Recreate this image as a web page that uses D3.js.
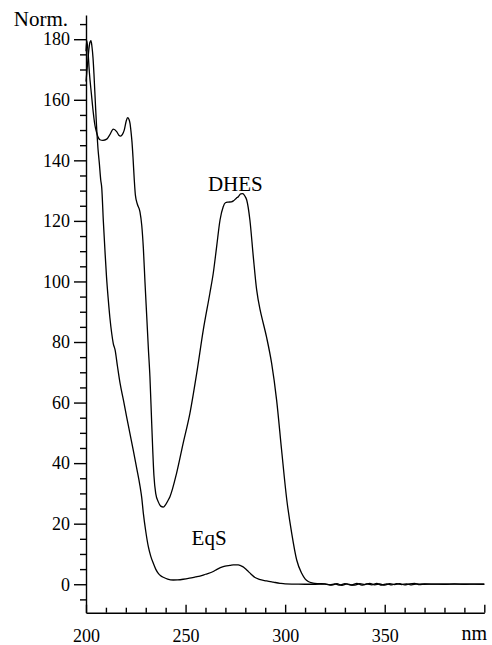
<!DOCTYPE html>
<html>
<head>
<meta charset="utf-8">
<script src="https://cdn.jsdelivr.net/npm/d3@7"></script>
<style>
  html, body { margin: 0; padding: 0; background: #fff; }
  svg { display: block; }
  text { font-family: "Liberation Serif", "Times New Roman", serif; fill: #000; }
</style>
</head>
<body>
<svg id="chart" width="492" height="645"></svg>
<script>
// ---------- data ----------
const dhesWavelength = [200,200.4,201,201.7,202.7,203.7,204.5,205.4,206.2,207,208.5,210.4,212,213.7,215.4,216.5,217.4,218.3,219.2,220.2,220.9,221.6,222.1,222.6,223.1,223.6,224.2,224.8,225.8,227.1,228,228.8,229.6,230.5,231.3,232.1,233,234.1,235,236.3,237.5,238.8,240,241.3,242.2,245.5,248.8,252.2,255.6,258.9,262.2,263.9,265.6,267.3,268.9,270,271.4,273,274,275.5,276.5,277.7,278.7,279.7,280.7,282.3,284,285.7,287.3,288.2,290.7,293.2,295.7,298.2,300.8,303.3,305.8,308.3,310,311.6,314,316.7,320,322.5,325,327.5,330,332.5,335,337.5,340,342.5,345,347.5,350,352.5,355,357.5,360,362.5,365,367.5,370,375,380,385,390,395,400];
const dhesValue = [176,179.5,176,169,162,155.5,151.5,149,147.5,146.8,146.6,147,148.5,150.3,149.5,148.3,148,148.6,150,153,154.1,153.5,152.2,149.5,146,141,134,128.5,125.5,123,118.5,111,100,88.4,78,68.5,53,36,30,27.2,25.8,25.5,26.3,27.8,29,36.7,46.6,56.5,69.7,84,96.1,102.7,111.5,120.3,124.7,126,126.2,126.3,126.6,127.5,128,128.9,129,128.3,126.9,120.3,108.2,97.2,91,88.4,81.5,73,60.9,44.4,28,16.8,8,3.6,1.8,0.9,0.4,0.2,0.1,-0.2,0.1,-0.3,0.2,-0.2,-0.3,0.2,-0.1,0.3,-0.2,0.1,-0.3,0.2,-0.1,0.2,-0.2,0.1,0.25,-0.1,0.1,0.05,0,0.1,0,0.05,0];

const eqsWavelength = [200,200.8,201.5,202,202.5,203,203.5,204,204.7,205.4,206,206.7,207.4,207.9,208.7,209.5,210.3,211.2,212,212.9,213.7,214.6,215.8,217.1,218.8,220.4,222,223.7,225.4,227.1,228,228.8,230,231.3,232.5,233.8,235,236.3,237.5,238.8,241,243.8,246,248.8,252,255,257.2,260,263.9,266,268.9,270.6,272.3,274,276.5,277.7,278.7,280.7,282.8,284.9,287,290.7,294,297.4,300,305,310,315,320,323.5,326,328.5,331,333.5,336,338.5,341,343.5,346,348.5,351,353.5,356,358.5,361,363.5,366,370,375,380,385,390,395,400];
const eqsValue = [166,172,177,179,179.5,177.5,174,168.5,159,150,144,139,133.5,131,120,110.4,101.5,93.9,88,82.9,79.5,77.4,72,66.4,60.8,55.3,50,44.4,38.5,32.5,28.5,23.4,17.5,12.4,9.3,6.9,5,3.6,2.8,2.3,1.7,1.4,1.45,1.65,2,2.4,2.7,3.3,4.2,5,5.8,6.1,6.2,6.4,6.4,6.1,5.8,4.7,3.4,2.2,1.6,1.1,0.7,0.3,0.1,0.05,0,0,0.05,-0.3,0.2,-0.35,0.1,-0.25,0.3,-0.3,0.1,-0.2,0.25,-0.3,0.15,-0.2,0.2,-0.1,0.15,-0.2,0.1,0,0.05,0,0.05,0,0.05,0];

const yMajorTicks = [0,20,40,60,80,100,120,140,160,180];
const yMinorTicks = [-5,5,10,15,25,30,35,45,50,55,65,70,75,85,90,95,105,110,115,125,130,135,145,150,155,165,170,175,185];
const xMajorTicks = [200,250,300,350,400];
const xMinorTicks = [210,220,230,240,260,270,280,290,310,320,330,340,360,370,380,390];
const xTickLabels = ["200","250","300","350",""];
const xUnitLabel = "nm";
const yUnitLabel = "Norm.";
const seriesNames = ["DHES","EqS"];

// ---------- drawing ----------
const svg = d3.select("#chart");
const x = d3.scaleLinear().domain([200, 400]).range([86, 484.3]);
const y = d3.scaleLinear().domain([-9.4, 188]).range([612.7, 15]);

const SERIF = "'Liberation Serif', 'Times New Roman', serif";
const FONT_NUM = 18, FONT_TXT = 21;

// Y axis: minor ticks
svg.append("g")
  .attr("transform", `translate(${x(200)},0)`)
  .call(d3.axisLeft(y).tickValues(yMinorTicks).tickSize(6).tickSizeOuter(0).tickFormat(""))
  .call(g => g.select(".domain").remove());
// Y axis: major ticks + labels + domain
const gy = svg.append("g")
  .attr("transform", `translate(${x(200)},0)`)
  .call(d3.axisLeft(y).tickValues(yMajorTicks).tickSize(12).tickSizeOuter(0).tickPadding(4));

// X axis (ticks pointing up)
svg.append("g")
  .attr("transform", `translate(0,${y(-9.4)})`)
  .call(d3.axisBottom(x).tickValues(xMinorTicks).tickSize(-5).tickSizeOuter(0).tickFormat(""))
  .call(g => g.select(".domain").remove());
const gx = svg.append("g")
  .attr("transform", `translate(0,${y(-9.4)})`)
  .call(d3.axisBottom(x).tickValues(xMajorTicks).tickSize(-8).tickSizeOuter(0).tickPadding(17)
    .tickFormat((d, i) => xTickLabels[i]));

svg.selectAll("g").attr("font-family", SERIF).attr("font-size", FONT_NUM);
svg.selectAll("g text").attr("font-family", SERIF).attr("font-size", FONT_NUM).attr("fill", "#000");
svg.selectAll(".domain, .tick line").attr("stroke", "#000").attr("stroke-width", 1.4);

// unit labels
svg.append("text").attr("x", 68).attr("y", 26).attr("text-anchor", "end")
  .attr("font-family", SERIF).attr("font-size", FONT_TXT).text(yUnitLabel);
svg.append("text").attr("x", 487).attr("y", 640).attr("text-anchor", "end")
  .attr("font-family", SERIF).attr("font-size", 20).text(xUnitLabel);

// curves
const line = d3.line().x(d => x(d[0])).y(d => y(d[1])).curve(d3.curveMonotoneX);
const series = [
  dhesWavelength.map((w, i) => [w, dhesValue[i]]),
  eqsWavelength.map((w, i) => [w, eqsValue[i]])
];
svg.selectAll("path.curve").data(series).enter().append("path")
  .attr("class", "curve")
  .attr("d", line)
  .attr("fill", "none")
  .attr("stroke", "#000")
  .attr("stroke-width", 1.3)
  .attr("stroke-linejoin", "round");

// series labels
svg.append("text").attr("x", x(275)).attr("y", 191).attr("text-anchor", "middle")
  .attr("font-family", SERIF).attr("font-size", FONT_TXT).text(seriesNames[0]);
svg.append("text").attr("x", x(261.8)).attr("y", 545).attr("text-anchor", "middle")
  .attr("font-family", SERIF).attr("font-size", FONT_TXT).text(seriesNames[1]);
</script>
</body>
</html>
